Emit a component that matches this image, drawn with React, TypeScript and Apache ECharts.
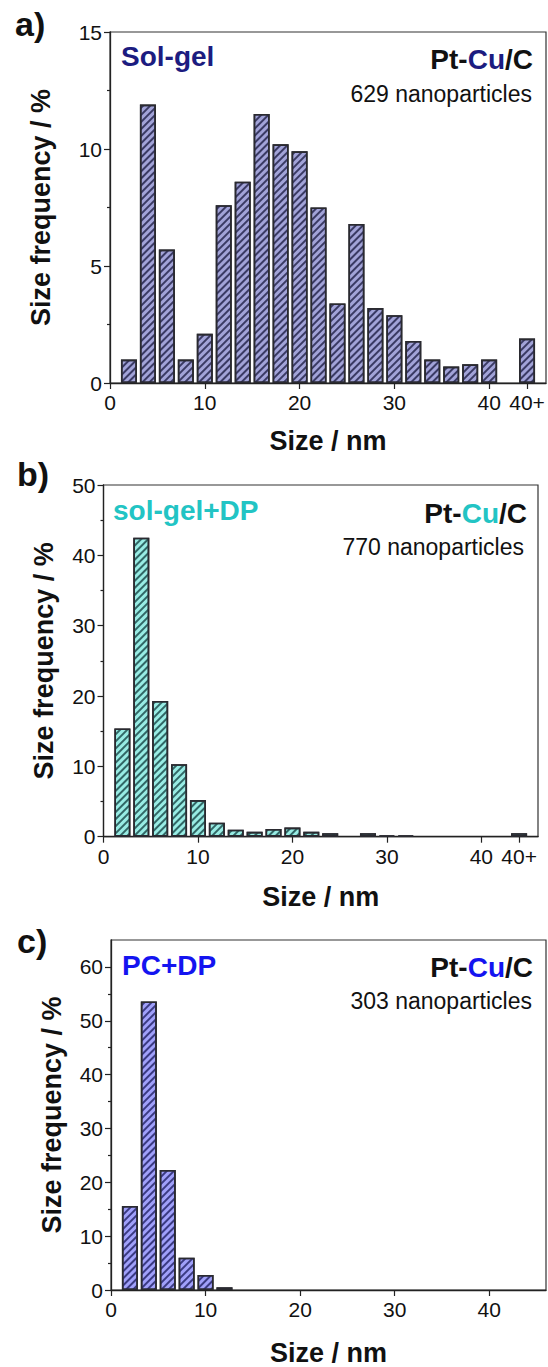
import React, { useEffect, useRef } from "react";
import * as echarts from "echarts";

// ---------- data ----------
const binsA = [2, 4, 6, 8, 10, 12, 14, 16, 18, 20, 22, 24, 26, 28, 30, 32, 34, 36, 38, 40, 44];
const freqA = [1.0, 11.9, 5.7, 1.0, 2.1, 7.6, 8.6, 11.5, 10.2, 9.9, 7.5, 3.4, 6.8, 3.2, 2.9, 1.8, 1.0, 0.7, 0.8, 1.0, 1.9];

const binsB = [2, 4, 6, 8, 10, 12, 14, 16, 18, 20, 22, 24, 26, 28, 30, 32, 34, 36, 38, 40, 44];
const freqB = [15.4, 42.5, 19.3, 10.3, 5.2, 2.0, 1.0, 0.7, 1.1, 1.3, 0.7, 0.5, 0, 0.5, 0.15, 0.15, 0, 0, 0, 0, 0.5];

const binsC = [2, 4, 6, 8, 10, 12];
const freqC = [15.6, 53.6, 22.3, 6.0, 2.8, 0.5];

const xTicksAB = [0, 10, 20, 30, 40, 44];
const xTicksC = [0, 10, 20, 30, 40];
const yTicksA = [0, 5, 10, 15];
const yTicksB = [0, 10, 20, 30, 40, 50];
const yTicksC = [0, 10, 20, 30, 40, 50, 60];

const xLabel = (v: number) => (v === 44 ? "40+" : String(v));

const pairs = (bins: number[], vals: number[]) =>
  bins.map((b, i) => [b, vals[i]]).filter((p) => p[1] > 0);

const FONT = "'Liberation Sans', Arial, sans-serif";

export default function App() {
  const ref = useRef<HTMLDivElement>(null);
  useEffect(() => {
    if (!ref.current) return;
    const chart = echarts.init(ref.current, undefined, { renderer: "svg" });

    const grids = [
      { left: 110, top: 32, width: 436, height: 351 },
      { left: 103.5, top: 485, width: 434.5, height: 351.7 },
      { left: 111, top: 940, width: 435, height: 350 },
    ].map((g) => ({ ...g, show: true, borderColor: "#333", borderWidth: 1.2, backgroundColor: "transparent" }));

    const axisLine = { show: true, onZero: false, lineStyle: { color: "#222", width: 1.3 } };
    const tickStyle = { color: "#222", width: 1.2 };

    const mkX = (gi: number, ticks: number[], gap: number) => ({
      type: "value",
      gridIndex: gi,
      min: 0,
      max: 46,
      interval: 10,
      name: "Size / nm",
      nameLocation: "middle",
      nameGap: gap,
      nameTextStyle: { fontFamily: FONT, fontSize: 27, fontWeight: "bold", color: "#111" },
      axisLine,
      axisTick: { show: true, inside: false, length: 6, lineStyle: tickStyle, customValues: ticks },
      axisLabel: {
        show: true,
        customValues: ticks,
        formatter: xLabel,
        fontFamily: FONT,
        fontSize: 21,
        color: "#111",
        margin: 9,
      },
      splitLine: { show: false },
    });

    const mkY = (gi: number, max: number, interval: number, ticks: number[], gap: number) => ({
      type: "value",
      gridIndex: gi,
      min: 0,
      max,
      interval,
      name: "Size frequency / %",
      nameLocation: "middle",
      nameGap: gap,
      nameTextStyle: { fontFamily: FONT, fontSize: 27, fontWeight: "bold", color: "#111" },
      axisLine,
      axisTick: { show: true, inside: false, length: 6, lineStyle: tickStyle, customValues: ticks },
      minorTick: { show: true, splitNumber: 2, length: 3, lineStyle: tickStyle },
      axisLabel: { show: true, customValues: ticks, fontFamily: FONT, fontSize: 21, color: "#111", margin: 8 },
      splitLine: { show: false },
    });

    const hatch = (color: string) => ({
      symbol: "rect",
      symbolSize: 1,
      dashArrayX: [1, 0],
      dashArrayY: [1.4, 2.6],
      rotation: -Math.PI / 4,
      color,
    });

    const mkBar = (gi: number, data: number[][], fill: string, hatchColor: string) => ({
      type: "bar",
      xAxisIndex: gi,
      yAxisIndex: gi,
      data,
      barWidth: 16,
      itemStyle: {
        color: fill,
        borderColor: "#2a2a30",
        borderWidth: 1.6,
        decal: hatch(hatchColor),
      },
    });

    const label = (txt: string, x: number, y: number) => ({
      type: "text",
      left: x,
      top: y,
      style: { text: txt, fontFamily: FONT, fontSize: 34, fontWeight: "bold", fill: "#111" },
    });

    const method = (txt: string, x: number, y: number, color: string) => ({
      type: "text",
      x,
      y,
      style: { text: txt, fontFamily: FONT, fontSize: 28, fontWeight: "bold", fill: color, textAlign: "left", textVerticalAlign: "top" },
    });

    const ptcu = (x: number, y: number, cuColor: string) => ({
      type: "text",
      x,
      y,
      style: {
        text: "{k|Pt-}{c|Cu}{k|/C}",
        textAlign: "right",
        textVerticalAlign: "top",
        rich: {
          k: { fontFamily: FONT, fontSize: 28, fontWeight: "bold", fill: "#111", color: "#111" },
          c: { fontFamily: FONT, fontSize: 28, fontWeight: "bold", fill: cuColor, color: cuColor },
        },
      },
    });

    const count = (txt: string, x: number, y: number) => ({
      type: "text",
      x,
      y,
      style: { text: txt, fontFamily: FONT, fontSize: 23, fill: "#111", textAlign: "right", textVerticalAlign: "top" },
    });

    chart.setOption({
      animation: false,
      backgroundColor: "#fff",
      grid: grids,
      xAxis: [mkX(0, xTicksAB, 44), mkX(1, xTicksAB, 47), mkX(2, xTicksC, 49)],
      yAxis: [mkY(0, 15, 5, yTicksA, 56), mkY(1, 50, 10, yTicksB, 46), mkY(2, 65, 10, yTicksC, 46)],
      series: [
        mkBar(0, pairs(binsA, freqA), "#a2a3d8", "rgba(40,40,80,0.85)"),
        mkBar(1, pairs(binsB, freqB), "#98ece4", "rgba(30,80,80,0.85)"),
        mkBar(2, pairs(binsC, freqC), "#a0a0fa", "rgba(40,40,110,0.85)"),
      ],
      graphic: [
        label("a)", 15, 7),
        label("b)", 17, 457),
        label("c)", 17, 924),
        method("Sol-gel", 121, 42, "#1c1c80"),
        method("sol-gel+DP", 113, 496, "#22c4c4"),
        method("PC+DP", 122, 951, "#1414f0"),
        ptcu(533, 45, "#1c1c80"),
        ptcu(527, 499, "#22c4c4"),
        ptcu(533, 953, "#1414f0"),
        count("629 nanoparticles", 532, 82),
        count("770 nanoparticles", 524, 535),
        count("303 nanoparticles", 532, 989),
      ],
    });
    return () => chart.dispose();
  }, []);
  return <div ref={ref} style={{ position: "absolute", left: 0, top: 0, width: 548, height: 1367 }} />;
}
